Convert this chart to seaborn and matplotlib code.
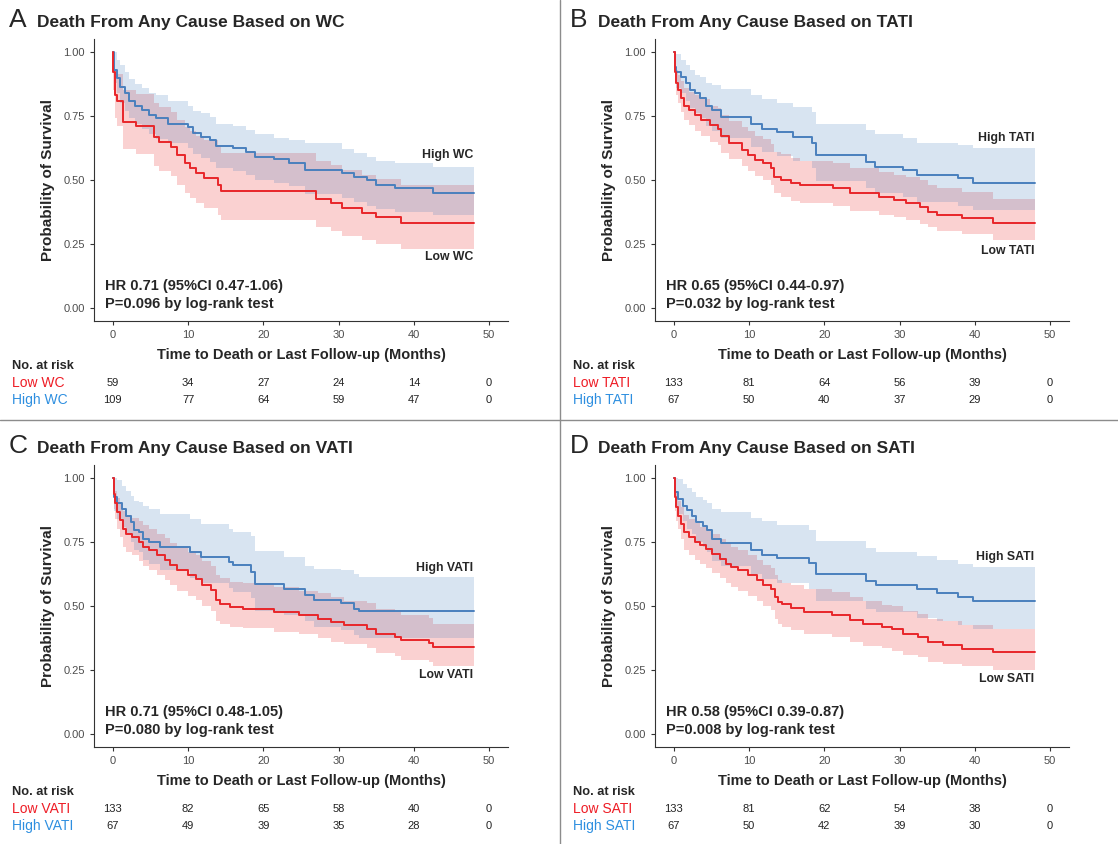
import matplotlib
matplotlib.use('Agg')
import matplotlib.pyplot as plt
import seaborn as sns
from matplotlib.lines import Line2D

# ---- Panel A: waist circumference ----
a_low_t = [0, 0.05, 0.25, 0.54, 1.36, 3.14, 5.49, 6.1, 7.68, 8.58, 9.62, 10.2, 11.06, 12.1,
           13.95, 14.36, 26.95, 29.0, 30.5, 33.1, 35.0, 38.3, 48]
a_low_s = [1.0, 0.92, 0.83, 0.81, 0.727, 0.71, 0.669, 0.649, 0.63, 0.597, 0.565, 0.545, 0.526, 0.506,
           0.48, 0.457, 0.425, 0.409, 0.39, 0.37, 0.357, 0.334, 0.334]
a_low_lo = [1.0, 0.85, 0.74, 0.71, 0.62, 0.60, 0.555, 0.535, 0.515, 0.48, 0.45, 0.43, 0.41, 0.39,
            0.365, 0.345, 0.315, 0.30, 0.28, 0.265, 0.25, 0.23, 0.23]
a_low_hi = [1.0, 0.99, 0.93, 0.915, 0.85, 0.835, 0.80, 0.785, 0.765, 0.735, 0.705, 0.69, 0.67, 0.655,
            0.63, 0.605, 0.575, 0.56, 0.54, 0.52, 0.505, 0.48, 0.48]
a_high_t = [0, 0.1, 0.54, 0.95, 1.57, 2.19, 3.0, 3.84, 4.87, 5.7, 7.35, 10.0, 10.6, 11.7, 12.9,
            13.7, 16.0, 17.7, 18.9, 21.4, 23.4, 25.5, 30.5, 32.1, 33.8, 35.0, 37.5, 42.6, 48]
a_high_s = [1.0, 0.93, 0.896, 0.864, 0.838, 0.81, 0.79, 0.773, 0.753, 0.74, 0.72, 0.705, 0.682, 0.669, 0.656,
            0.632, 0.623, 0.61, 0.591, 0.58, 0.568, 0.539, 0.526, 0.513, 0.50, 0.48, 0.468, 0.448, 0.448]
a_high_lo = [1.0, 0.88, 0.84, 0.80, 0.77, 0.74, 0.72, 0.70, 0.68, 0.66, 0.645, 0.625, 0.60, 0.585, 0.57,
             0.545, 0.535, 0.52, 0.50, 0.49, 0.475, 0.445, 0.43, 0.415, 0.40, 0.385, 0.375, 0.364, 0.364]
a_high_hi = [1.0, 1.0, 0.97, 0.95, 0.92, 0.895, 0.875, 0.86, 0.84, 0.83, 0.81, 0.79, 0.77, 0.76, 0.745,
             0.72, 0.71, 0.695, 0.68, 0.665, 0.655, 0.645, 0.62, 0.605, 0.59, 0.575, 0.565, 0.552, 0.552]
a_risk_low = [59, 34, 27, 24, 14, 0]
a_risk_high = [109, 77, 64, 59, 47, 0]

# ---- Panel B: TATI ----
b_low_t = [0, 0.12, 0.33, 0.54, 0.95, 1.36, 1.98, 2.81, 3.63, 4.87, 5.9, 6.31, 7.35, 9.0, 9.82, 10.85,
           11.9, 12.9, 13.3, 14.2, 15.6, 16.8, 21.2, 23.4, 27.2, 29.2, 30.9, 32.7, 33.8, 35.0, 38.3, 42.4, 48]
b_low_s = [1.0, 0.922, 0.877, 0.85, 0.818, 0.79, 0.773, 0.753, 0.734, 0.714, 0.70, 0.67, 0.643, 0.617, 0.597, 0.578,
           0.565, 0.545, 0.513, 0.50, 0.487, 0.481, 0.468, 0.448, 0.435, 0.422, 0.409, 0.396, 0.377, 0.364, 0.351, 0.334, 0.334]
b_low_lo = [1.0, 0.88, 0.83, 0.80, 0.765, 0.735, 0.715, 0.69, 0.67, 0.65, 0.635, 0.605, 0.58, 0.555, 0.535, 0.515,
            0.50, 0.48, 0.45, 0.435, 0.42, 0.41, 0.40, 0.38, 0.365, 0.355, 0.345, 0.33, 0.315, 0.30, 0.29, 0.265, 0.265]
b_low_hi = [1.0, 0.97, 0.93, 0.91, 0.885, 0.86, 0.845, 0.83, 0.815, 0.79, 0.78, 0.755, 0.73, 0.705, 0.69, 0.67,
            0.66, 0.64, 0.61, 0.60, 0.585, 0.575, 0.565, 0.545, 0.53, 0.52, 0.51, 0.50, 0.48, 0.47, 0.455, 0.425, 0.425]
b_high_t = [0, 0.12, 0.33, 0.95, 1.57, 2.19, 2.81, 3.43, 4.25, 5.08, 6.31, 10.2, 11.7, 13.7, 15.8, 18.3,
            18.9, 25.5, 26.7, 30.5, 32.3, 37.7, 39.7, 48]
b_high_s = [1.0, 0.94, 0.922, 0.903, 0.877, 0.85, 0.838, 0.818, 0.79, 0.773, 0.747, 0.72, 0.70, 0.688, 0.669, 0.643,
            0.597, 0.571, 0.552, 0.539, 0.519, 0.506, 0.49, 0.49]
b_high_lo = [1.0, 0.88, 0.86, 0.84, 0.81, 0.78, 0.76, 0.74, 0.71, 0.69, 0.665, 0.63, 0.61, 0.595, 0.575, 0.545,
             0.495, 0.47, 0.45, 0.435, 0.415, 0.40, 0.383, 0.383]
b_high_hi = [1.0, 1.0, 0.99, 0.97, 0.95, 0.93, 0.91, 0.90, 0.88, 0.87, 0.855, 0.83, 0.815, 0.80, 0.785, 0.765,
             0.72, 0.695, 0.68, 0.665, 0.645, 0.635, 0.625, 0.625]
b_risk_low = [133, 81, 64, 56, 39, 0]
b_risk_high = [67, 50, 40, 37, 29, 0]

# ---- Panel C: VATI ----
c_low_t = [0, 0.12, 0.25, 0.54, 0.95, 1.36, 1.77, 2.6, 3.43, 4.04, 4.87, 5.9, 6.93, 7.55, 8.58, 10.0, 11.1, 11.9,
           13.1, 13.7, 14.2, 15.6, 17.3, 21.4, 24.7, 27.2, 29.0, 30.7, 33.8, 35.0, 37.5, 38.3, 42.0, 42.6, 48]
c_low_s = [1.0, 0.938, 0.90, 0.866, 0.834, 0.80, 0.78, 0.77, 0.75, 0.73, 0.717, 0.697, 0.678, 0.658, 0.639, 0.62, 0.606, 0.58,
           0.561, 0.522, 0.509, 0.496, 0.49, 0.477, 0.464, 0.451, 0.438, 0.425, 0.412, 0.392, 0.379, 0.366, 0.356, 0.34, 0.34]
c_low_lo = [1.0, 0.88, 0.84, 0.80, 0.77, 0.73, 0.71, 0.70, 0.675, 0.655, 0.64, 0.62, 0.60, 0.58, 0.56, 0.54, 0.525, 0.50,
            0.48, 0.44, 0.43, 0.42, 0.415, 0.40, 0.39, 0.375, 0.36, 0.35, 0.335, 0.315, 0.305, 0.29, 0.28, 0.265, 0.265]
c_low_hi = [1.0, 0.98, 0.95, 0.92, 0.90, 0.87, 0.855, 0.845, 0.83, 0.815, 0.80, 0.78, 0.765, 0.745, 0.73, 0.71, 0.70, 0.675,
            0.655, 0.62, 0.61, 0.595, 0.59, 0.575, 0.56, 0.55, 0.535, 0.52, 0.51, 0.49, 0.475, 0.465, 0.455, 0.43, 0.43]
c_high_t = [0, 0.12, 0.54, 1.16, 1.77, 2.39, 2.81, 3.43, 4.04, 4.87, 6.31, 10.2, 11.7, 15.4, 16.0, 18.3,
            18.9, 22.8, 25.5, 26.7, 30.3, 32.1, 32.7, 48]
c_high_s = [1.0, 0.925, 0.90, 0.88, 0.853, 0.827, 0.795, 0.788, 0.762, 0.75, 0.73, 0.71, 0.69, 0.67, 0.658, 0.632,
            0.587, 0.568, 0.542, 0.525, 0.51, 0.49, 0.479, 0.479]
c_high_lo = [1.0, 0.87, 0.84, 0.81, 0.78, 0.75, 0.72, 0.71, 0.68, 0.665, 0.64, 0.61, 0.59, 0.57, 0.555, 0.53,
             0.48, 0.465, 0.44, 0.42, 0.405, 0.385, 0.375, 0.375]
c_high_hi = [1.0, 1.0, 0.99, 0.97, 0.95, 0.93, 0.91, 0.905, 0.89, 0.88, 0.86, 0.84, 0.82, 0.80, 0.79, 0.775,
             0.715, 0.69, 0.655, 0.645, 0.64, 0.625, 0.613, 0.613]
c_risk_low = [133, 82, 65, 58, 40, 0]
c_risk_high = [67, 49, 39, 35, 28, 0]

# ---- Panel D: SATI ----
d_low_t = [0, 0.12, 0.25, 0.54, 0.95, 1.36, 1.98, 2.81, 3.43, 4.25, 5.08, 6.11, 6.93, 7.55, 8.58, 9.82, 11.06, 11.9,
           12.9, 13.5, 13.9, 14.4, 15.6, 17.3, 21.0, 23.4, 25.1, 27.6, 29.0, 30.5, 32.5, 33.8, 35.8, 38.3, 42.4, 48]
d_low_s = [1.0, 0.925, 0.886, 0.853, 0.82, 0.788, 0.769, 0.75, 0.736, 0.723, 0.704, 0.684, 0.665, 0.652, 0.639, 0.62, 0.60, 0.58,
           0.568, 0.535, 0.516, 0.506, 0.494, 0.477, 0.464, 0.444, 0.431, 0.418, 0.412, 0.392, 0.379, 0.36, 0.347, 0.334, 0.321, 0.321]
d_low_lo = [1.0, 0.87, 0.83, 0.80, 0.76, 0.72, 0.70, 0.68, 0.665, 0.65, 0.63, 0.61, 0.59, 0.575, 0.56, 0.54, 0.52, 0.50,
            0.485, 0.45, 0.43, 0.42, 0.405, 0.39, 0.38, 0.36, 0.345, 0.335, 0.325, 0.31, 0.30, 0.28, 0.275, 0.265, 0.25, 0.25]
d_low_hi = [1.0, 0.97, 0.94, 0.91, 0.885, 0.855, 0.84, 0.825, 0.81, 0.80, 0.78, 0.76, 0.745, 0.73, 0.72, 0.70, 0.68, 0.66,
            0.65, 0.62, 0.60, 0.59, 0.58, 0.565, 0.555, 0.535, 0.52, 0.505, 0.50, 0.48, 0.47, 0.45, 0.44, 0.425, 0.41, 0.41]
d_high_t = [0, 0.12, 0.54, 1.16, 1.77, 2.39, 3.0, 3.84, 4.45, 5.08, 6.31, 10.2, 11.7, 13.7, 17.9, 18.9,
            25.5, 26.9, 32.3, 35.0, 37.7, 39.7, 48]
d_high_s = [1.0, 0.944, 0.918, 0.892, 0.873, 0.853, 0.827, 0.814, 0.795, 0.762, 0.747, 0.72, 0.70, 0.688, 0.669, 0.626,
            0.597, 0.582, 0.568, 0.552, 0.536, 0.519, 0.519]
d_high_lo = [1.0, 0.89, 0.86, 0.83, 0.80, 0.78, 0.75, 0.73, 0.71, 0.675, 0.655, 0.625, 0.605, 0.59, 0.565, 0.52,
             0.49, 0.475, 0.455, 0.44, 0.425, 0.41, 0.41]
d_high_hi = [1.0, 1.0, 0.995, 0.975, 0.96, 0.945, 0.925, 0.915, 0.90, 0.88, 0.865, 0.845, 0.83, 0.815, 0.795, 0.755,
             0.725, 0.71, 0.695, 0.68, 0.665, 0.652, 0.652]
d_risk_low = [133, 81, 62, 54, 38, 0]
d_risk_high = [67, 50, 42, 39, 30, 0]

risk_times = [0, 10, 20, 30, 40, 50]

panels = [
    ('A', 'WC', (a_low_t, a_low_s, a_low_lo, a_low_hi), (a_high_t, a_high_s, a_high_lo, a_high_hi),
     a_risk_low, a_risk_high, 'HR 0.71 (95%CI 0.47-1.06)', 'P=0.096 by log-rank test', 0.597, 0.199),
    ('B', 'TATI', (b_low_t, b_low_s, b_low_lo, b_low_hi), (b_high_t, b_high_s, b_high_lo, b_high_hi),
     b_risk_low, b_risk_high, 'HR 0.65 (95%CI 0.44-0.97)', 'P=0.032 by log-rank test', 0.662, 0.225),
    ('C', 'VATI', (c_low_t, c_low_s, c_low_lo, c_low_hi), (c_high_t, c_high_s, c_high_lo, c_high_hi),
     c_risk_low, c_risk_high, 'HR 0.71 (95%CI 0.48-1.05)', 'P=0.080 by log-rank test', 0.648, 0.232),
    ('D', 'SATI', (d_low_t, d_low_s, d_low_lo, d_low_hi), (d_high_t, d_high_s, d_high_lo, d_high_hi),
     d_risk_low, d_risk_high, 'HR 0.58 (95%CI 0.39-0.87)', 'P=0.008 by log-rank test', 0.690, 0.217),
]

sns.set_theme(style='ticks')
plt.rcParams['font.family'] = ['Liberation Sans', 'DejaVu Sans']

RED = '#E8262A'
BLUE = '#4A80BD'
RED_TXT = '#EE1C25'
BLUE_TXT = '#2E8FE0'

W, H = 1118, 844
fig = plt.figure(figsize=(W / 100, H / 100), dpi=100)

# panel origin offsets in pixels (x, y)
offsets = [(0, 0), (561, 0), (0, 426), (561, 426)]

for (letter, var, low, high, r_low, r_high, hr, pv, y_hi_lab, y_lo_lab), (ox, oy) in zip(panels, offsets):
    left, top, right, bottom = 94 + ox, 39 + oy, 508 + ox, 321 + oy
    ax = fig.add_axes([left / W, 1 - bottom / H, (right - left) / W, (bottom - top) / H])

    # confidence bands
    for (t, s, lo, hi), col in [(low, RED), (high, BLUE)]:
        ax.fill_between(t, lo, hi, step='post', color=col, alpha=0.21, lw=0)
    # survival curves
    for (t, s, lo, hi), col in [(high, BLUE), (low, RED)]:
        sns.lineplot(x=t, y=s, ax=ax, color=col, lw=1.4, drawstyle='steps-post',
                     estimator=None, sort=False)

    ax.set_xlim(-2.5, 52.5)
    ax.set_ylim(-0.05, 1.05)
    ax.set_xticks(risk_times)
    ax.set_yticks([0, 0.25, 0.5, 0.75, 1.0])
    ax.set_yticklabels(['0.00', '0.25', '0.50', '0.75', '1.00'])
    ax.tick_params(labelsize=8, labelcolor='#4D4D4D', length=3, width=0.8, color='#333333')
    for sp in ['left', 'bottom']:
        ax.spines[sp].set_color('#333333')
        ax.spines[sp].set_linewidth(0.8)
    sns.despine(ax=ax)
    ax.set_xlabel('Time to Death or Last Follow-up (Months)', fontsize=10.5, fontweight='bold', labelpad=6)
    ax.set_ylabel('Probability of Survival', fontsize=11, fontweight='bold', labelpad=6)

    ax.text(47.9, y_hi_lab, f'High {var}', ha='right', va='center', fontsize=8.8, fontweight='bold')
    ax.text(47.9, y_lo_lab, f'Low {var}', ha='right', va='center', fontsize=8.8, fontweight='bold')
    ax.text(-1.0, 0.088, hr, ha='left', va='center', fontsize=10.5, fontweight='bold')
    ax.text(-1.0, 0.016, pv, ha='left', va='center', fontsize=10.5, fontweight='bold')

    # titles
    fig.text((9 + ox) / W, 1 - (27 + oy) / H, letter, fontsize=19, va='baseline', ha='left')
    fig.text((37 + ox) / W, 1 - (27 + oy) / H, f'Death From Any Cause Based on {var}',
             fontsize=12.5, fontweight='bold', va='baseline', ha='left')

    # number at risk table
    fig.text((12 + ox) / W, 1 - (366 + oy) / H, 'No. at risk', fontsize=9.2, fontweight='bold', va='center')
    fig.text((12 + ox) / W, 1 - (383 + oy) / H, f'Low {var}', fontsize=10, color=RED_TXT, va='center')
    fig.text((12 + ox) / W, 1 - (400 + oy) / H, f'High {var}', fontsize=10, color=BLUE_TXT, va='center')
    tr = ax.get_xaxis_transform()
    for x, n1, n2 in zip(risk_times, r_low, r_high):
        ax.text(x, (321 - 383) / 282, str(n1), transform=tr, ha='center', va='center', fontsize=8,
                color='#222222', clip_on=False)
        ax.text(x, (321 - 400) / 282, str(n2), transform=tr, ha='center', va='center', fontsize=8,
                color='#222222', clip_on=False)

# panel dividers
fig.add_artist(Line2D([560 / W, 560 / W], [0, 1], color='#8C8C8C', lw=1.0))
fig.add_artist(Line2D([0, 1], [1 - 420 / H, 1 - 420 / H], color='#8C8C8C', lw=1.0))

fig.savefig('out.png', dpi=100)
